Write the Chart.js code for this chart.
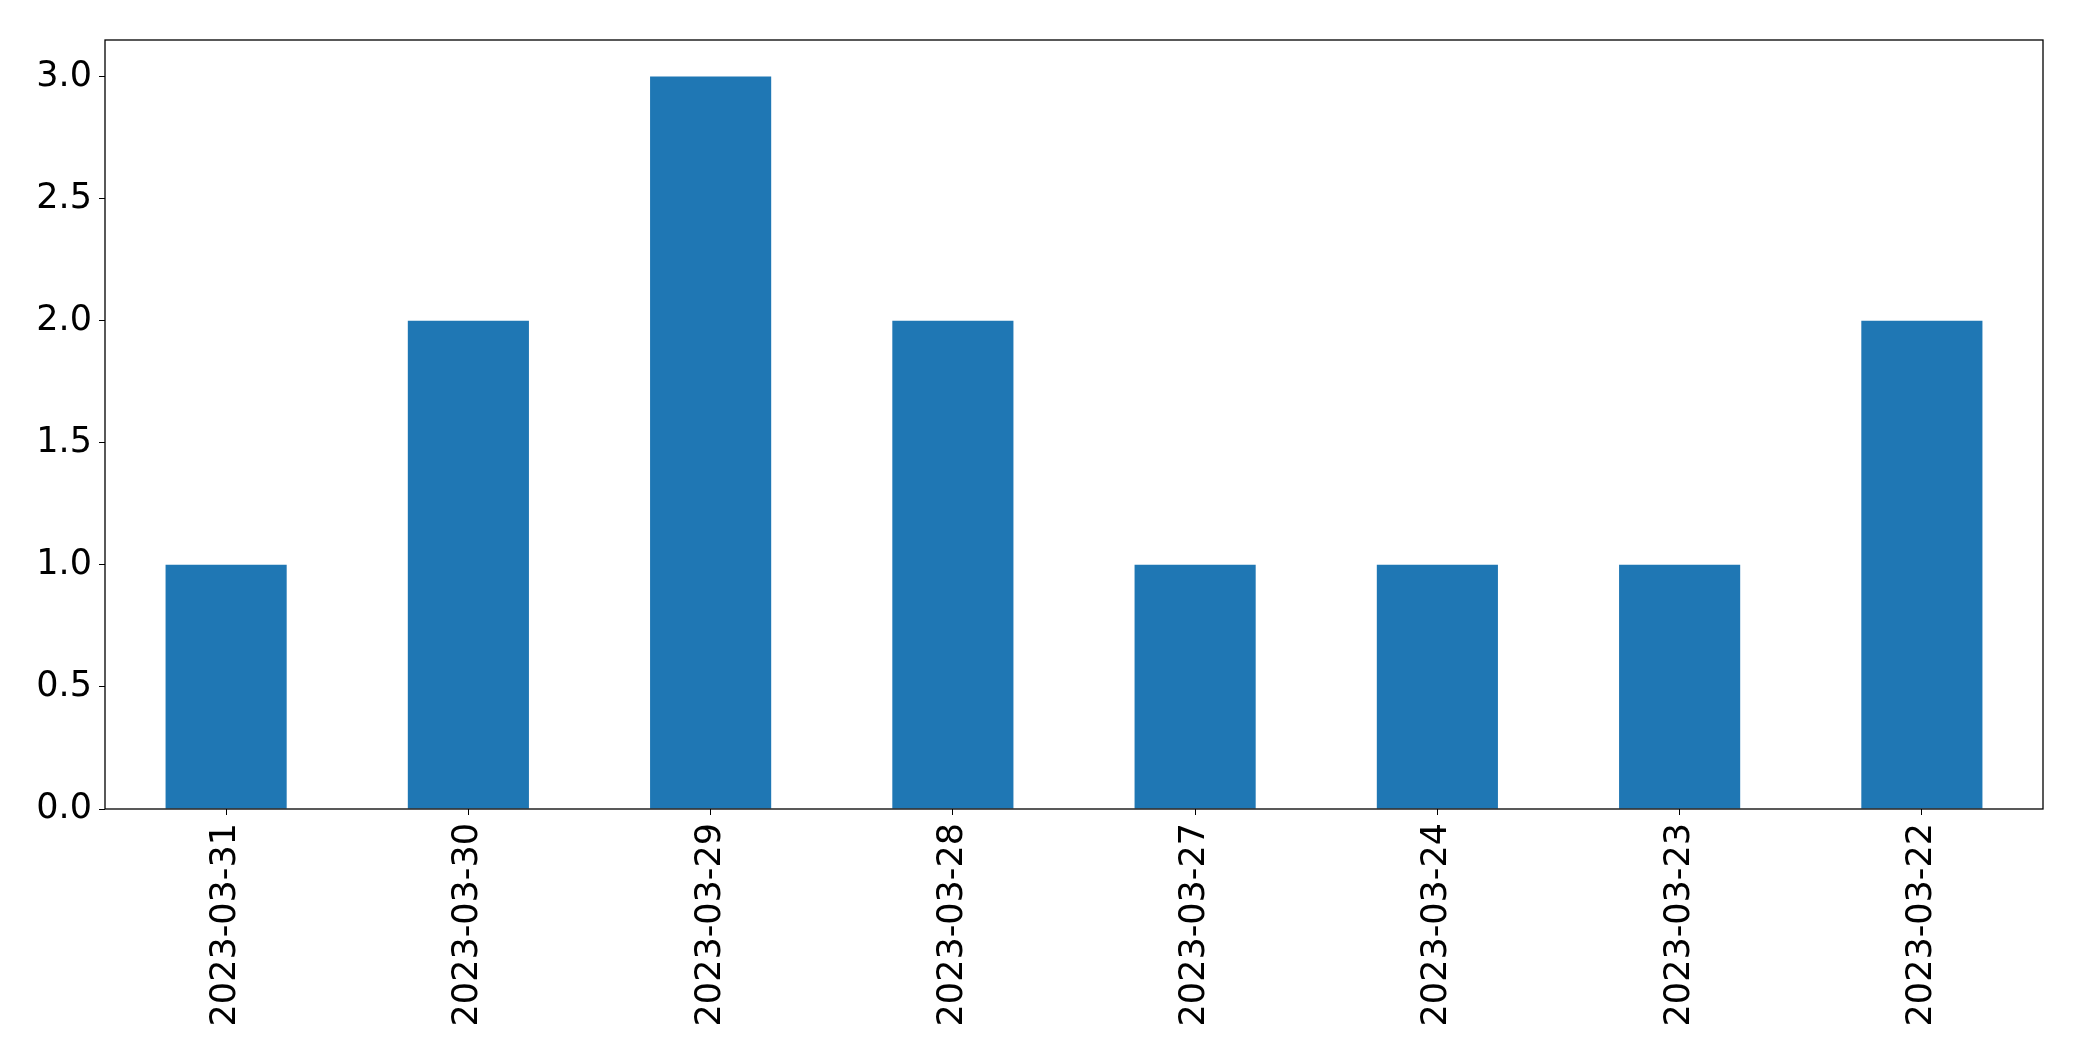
<!DOCTYPE html>
<html>
<head>
<meta charset="utf-8">
<script src="https://cdn.jsdelivr.net/npm/chart.js@4"></script>
<style>
  html, body { margin: 0; padding: 0; background: #fff; }
  #wrap { width: 2082px; height: 1061px; }
</style>
</head>
<body>
<div id="wrap"><canvas id="myChart" width="2082" height="1061"></canvas></div>
<script>
var dates = ['2023-03-31', '2023-03-30', '2023-03-29', '2023-03-28', '2023-03-27', '2023-03-24', '2023-03-23', '2023-03-22'];
var counts = [1, 2, 3, 2, 1, 1, 1, 2];
var yTicks = [0, 0.5, 1.0, 1.5, 2.0, 2.5, 3.0];

Chart.defaults.color = '#000';
Chart.defaults.font.family = 'DejaVu Sans';

// box round the plot, like matplotlib spines
var frame = {
    id: 'frame',
    afterDraw: function (chart) {
        var a = chart.chartArea;
        var c = chart.ctx;
        c.save();
        c.strokeStyle = '#000';
        c.lineWidth = 1.3;
        c.strokeRect(a.left, a.top, a.right - a.left, a.bottom - a.top);
        c.restore();
    }
};

var ctx = document.getElementById('myChart').getContext('2d');
var myChart = new Chart(ctx, {
    type: 'bar',
    data: {
        labels: dates,
        datasets: [{
            data: counts,
            backgroundColor: '#1f77b4',
            barPercentage: 0.5,
            categoryPercentage: 1.0
        }]
    },
    options: {
        responsive: false,
        animation: false,
        layout: { padding: { top: 40, right: 39, left: 0, bottom: 0 } },
        plugins: { legend: { display: false }, tooltip: { enabled: false } },
        scales: {
            x: {
                grid: { display: true, offset: false, drawOnChartArea: false, tickLength: 6, tickColor: '#000', color: '#000' },
                border: { display: false },
                ticks: { font: { size: 35 }, maxRotation: 90, minRotation: 90, padding: 8, autoSkip: false },
                afterFit: function (axis) { axis.height = 1061 - 809; }
            },
            y: {
                min: 0,
                max: 3.15,
                grid: { display: true, drawOnChartArea: false, tickLength: 6, tickColor: '#000', color: '#000' },
                border: { display: false },
                ticks: {
                    font: { size: 35 },
                    padding: 7,
                    callback: function (v) { return v.toFixed(1); }
                },
                afterBuildTicks: function (axis) {
                    axis.ticks = yTicks.map(function (v) { return { value: v }; });
                },
                afterFit: function (axis) { axis.width = 105; }
            }
        }
    },
    plugins: [frame]
});
</script>
</body>
</html>
